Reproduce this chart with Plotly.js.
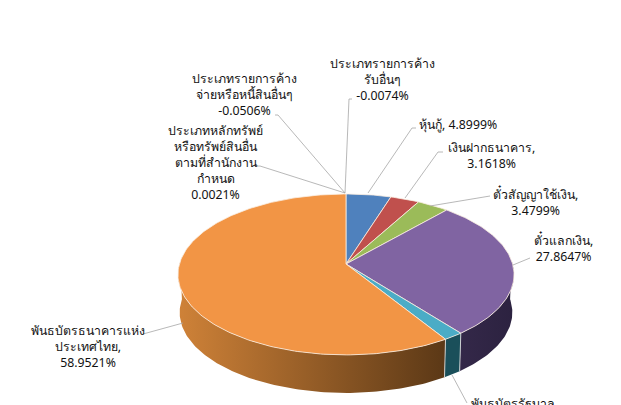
<!DOCTYPE html>
<html><head><meta charset="utf-8">
<script src="https://cdn.plot.ly/plotly-3.0.1.min.js"></script>
<style>html,body{margin:0;padding:0;background:#fff;overflow:hidden}#c{width:621px;height:405px}</style>
</head><body><div id="c"></div>
<script>
const categories = ['หุ้นกู้','เงินฝากธนาคาร','ตั๋วสัญญาใช้เงิน','ตั๋วแลกเงิน','พันธบัตรรัฐบาล','พันธบัตรธนาคารแห่งประเทศไทย','ประเภทหลักทรัพย์หรือทรัพย์สินอื่นตามที่สำนักงานกำหนด','ประเภทรายการค้างจ่ายหรือหนี้สินอื่นๆ','ประเภทรายการค้างรับอื่นๆ'];
const values = [4.8999,3.1618,3.4799,27.8647,1.6975,58.9521,0.0021,-0.0506,-0.0074];
const labelNames = ['หุ้นกู้','เงินฝากธนาคาร','ตั๋วสัญญาใช้เงิน','ตั๋วแลกเงิน','พันธบัตรรัฐบาล','พันธบัตรธนาคารแห่ง<br>ประเทศไทย','ประเภทหลักทรัพย์<br>หรือทรัพย์สินอื่น<br>ตามที่สำนักงาน<br>กำหนด','ประเภทรายการค้าง<br>จ่ายหรือหนี้สินอื่นๆ','ประเภทรายการค้าง<br>รับอื่นๆ'];
const labelSeps = [', ',',<br>',',<br>',',<br>',',<br>',',<br>','<br>','<br>','<br>'];
const topColors = ['#4F81BD','#C0504D','#9BBB59','#8064A2','#4BACC6','#F29545','#F29545','#F29545','#F29545'];
const wallStops = [['#2f4d72','#2f4d72'],['#732f2d','#732f2d'],['#5d7035','#5d7035'],['#2c2240','#342849'],['#1a4f5a','#1a4f5a'],['#5b3816','#cf8238'],['#5b3816','#5b3816'],['#5b3816','#5b3816'],['#5b3816','#5b3816']];
const labelAt = [[458,124],[491,155.5],[535,201.5],[563,247.5],[514,408],[88,346],[215,162],[244,94.5],[382,79.5]];
const leaders = [
  [[368,193],[412,128],[416,128]],
  [[405,198],[438,152],[443,152]],
  [[430,206],[488,196],[490,196]],
  [[513,265],[530,258]],
  [[452,375],[467,403]],
  [[183,323],[145,334],[143,334]],
  [[345,193],[260,166],[257,166]],
  [[345,193],[278,115],[275,115]],
  [[345,193],[349,99],[352,99]]
];

const CX=346, CY=264, A=166.6, B=79.1, K=0.13, DEPTH=38, LOWER_SCALE=0.99;
function rim(deg, drop, scale){
  const t=deg*Math.PI/180, u=Math.sin(t), v=Math.cos(t), w=1+K*v;
  return [CX+scale*A*u/w, CY-B*v/w+drop];
}
function arc(a0,a1,drop,scale){
  const pts=[], n=Math.max(2,Math.ceil(Math.abs(a1-a0)));
  for(let i=0;i<=n;i++) pts.push(rim(a0+(a1-a0)*i/n,drop,scale));
  return pts;
}
const positives = values.map(v=>Math.max(v,0));
const total = positives.reduce((a,b)=>a+b,0);
const traces=[];
let acc=0;
const spans=positives.map(v=>{const s=[acc/total*360,(acc+v)/total*360];acc+=v;return s;});
const SEAM='rgba(250,238,225,0.8)';
const WALLSEAM='rgba(225,225,225,0.85)';
spans.forEach((s,i)=>{
  if(positives[i]<0.01) return;
  const a0=Math.max(s[0],88), a1=Math.min(s[1],272);
  if(a1<=a0) return;
  const poly=arc(a0,a1,0,1).concat(arc(a1,a0,DEPTH,LOWER_SCALE));
  poly.push(poly[0]);
  traces.push({type:'scatter',mode:'lines',x:poly.map(p=>p[0]),y:poly.map(p=>p[1]),fill:'toself',
    fillgradient:{type:'horizontal',colorscale:[[0,wallStops[i][1]],[1,wallStops[i][0]]]},
    line:{width:0},hoverinfo:'skip',showlegend:false});
});
spans.forEach((s,i)=>{
  if(positives[i]<0.01 || s[1]<=88 || s[1]>=272) return;
  const seam=[rim(s[1],0,1),rim(s[1],DEPTH,LOWER_SCALE)];
  traces.push({type:'scatter',mode:'lines',x:seam.map(p=>p[0]),y:seam.map(p=>p[1]),line:{color:WALLSEAM,width:1},hoverinfo:'skip',showlegend:false});
});
spans.forEach((s,i)=>{
  if(positives[i]<0.01) return;
  const poly=[[CX,CY]].concat(arc(s[0],s[1],0,1));
  poly.push([CX,CY]);
  traces.push({type:'scatter',mode:'lines',x:poly.map(p=>p[0]),y:poly.map(p=>p[1]),fill:'toself',fillcolor:topColors[i],
    line:{color:SEAM,width:1},name:categories[i],text:categories[i],hoverinfo:'text',showlegend:false});
});
leaders.forEach(l=>{
  traces.push({type:'scatter',mode:'lines',x:l.map(p=>p[0]),y:l.map(p=>p[1]),line:{color:'#a6a6a6',width:0.8},hoverinfo:'skip',showlegend:false});
});
const annotations=labelNames.map((n,i)=>({
  xref:'x',yref:'y',x:labelAt[i][0],y:i===4?393:labelAt[i][1],xanchor:'center',yanchor:i===4?'top':'middle',
  text:n+labelSeps[i]+values[i].toFixed(4)+'%',showarrow:false,align:'center',
  font:{family:'"Noto Sans", Tahoma, sans-serif',size:12.3,color:'#111'}
}));
Plotly.newPlot('c',traces,{
  width:621,height:405,margin:{l:0,r:0,t:0,b:0},paper_bgcolor:'#fff',plot_bgcolor:'#fff',showlegend:false,
  xaxis:{range:[0,621],visible:false,fixedrange:true},
  yaxis:{range:[405,0],visible:false,fixedrange:true},
  annotations
},{displayModeBar:false,staticPlot:true});
</script></body></html>
